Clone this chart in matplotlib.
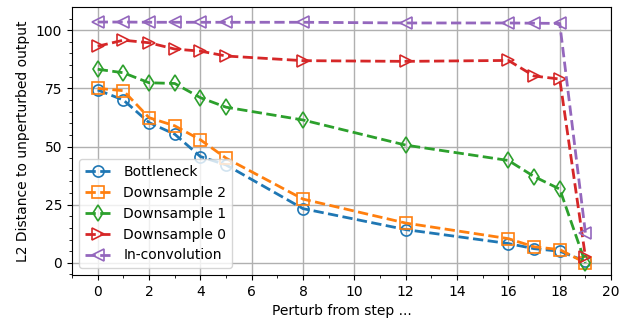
import numpy as np
import matplotlib.pyplot as plt
from matplotlib.ticker import MultipleLocator

steps = [0, 1, 2, 3, 4, 5, 8, 12, 16, 17, 18, 19]

bottleneck = [74.3, 70.0, 60.3, 55.3, 45.7, 42.1, 23.3, 14.3, 8.3, 6.1, 5.0, 0.7]
down2 = [75.0, 74.0, 62.4, 58.9, 52.9, 45.0, 27.4, 17.1, 10.4, 6.9, 5.7, 0.0]
down1 = [83.2, 81.7, 77.4, 77.1, 71.0, 66.9, 61.4, 50.6, 44.0, 37.1, 31.7, 0.0]
down0 = [93.1, 95.7, 94.6, 91.9, 91.0, 88.9, 86.9, 86.6, 87.0, 80.3, 79.0, 2.6]
inconv = [103.5, 103.5, 103.4, 103.4, 103.4, 103.4, 103.4, 103.1, 103.1, 103.0, 102.9, 12.9]

series = [
    ('Bottleneck', bottleneck, 'o'),
    ('Downsample 2', down2, 's'),
    ('Downsample 1', down1, 'd'),
    ('Downsample 0', down0, '>'),
    ('In-convolution', inconv, '<'),
]

fig = plt.figure(figsize=(6.29, 3.25), dpi=100)
ax = fig.add_axes([0.1145, 0.154, 0.857, 0.824])

for i, (name, vals, m) in enumerate(series):
    ax.plot(steps, vals, '--', marker=m, color='C%d' % i, mfc='none',
            markersize=8, linewidth=2, markeredgewidth=1.2, label=name)

ax.set_xlim(-1, 20)
ax.set_ylim(-5.2, 109.9)
ax.set_xticks(np.arange(0, 21, 2))
ax.xaxis.set_minor_locator(MultipleLocator(1))
ax.yaxis.set_major_locator(MultipleLocator(25))
ax.yaxis.set_minor_locator(MultipleLocator(5))
ax.grid(True, which='major', color='#b0b0b0', linewidth=1)
ax.set_xlabel('Perturb from step ...')
ax.set_ylabel('L2 Distance to unperturbed output')
ax.legend(loc='lower left')

fig.savefig('out.png', dpi=100)
